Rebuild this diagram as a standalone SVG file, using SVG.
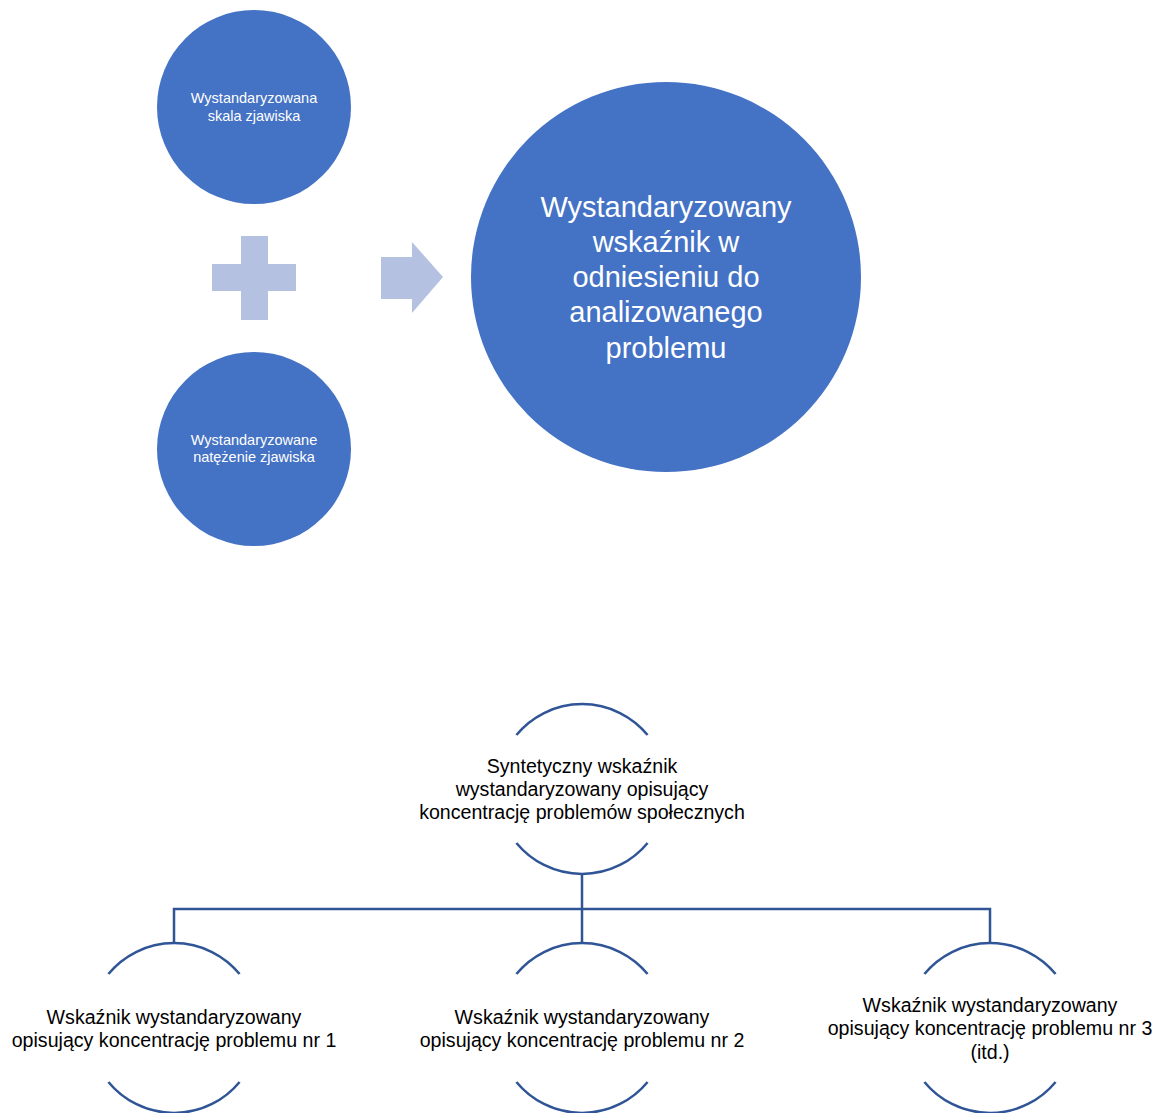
<svg xmlns="http://www.w3.org/2000/svg" width="1157" height="1113" viewBox="0 0 1157 1113">
<style>
.fill{fill:#4472C4}
.light{fill:#B4C1E1}
.wt{fill:#FFFFFF;font-family:"Liberation Sans",Arial,sans-serif;text-anchor:middle}
.bt{fill:#000000;font-family:"Liberation Sans",Arial,sans-serif;text-anchor:middle;font-size:19.6px}
.arc{fill:none;stroke:#2F5597;stroke-width:2.5}
.conn{fill:none;stroke:#2F5597;stroke-width:2.5}
</style>
<rect width="1157" height="1113" fill="#FFFFFF"/>
<g id="node-skala">
<circle class="fill" cx="254" cy="107" r="97"/>
<text class="wt" font-size="14.5"><tspan x="254" y="103">Wystandaryzowana</tspan><tspan x="254" y="121">skala zjawiska</tspan></text>
</g>
<g id="node-natezenie">
<circle class="fill" cx="254" cy="449" r="97"/>
<text class="wt" font-size="14.5"><tspan x="254" y="445">Wystandaryzowane</tspan><tspan x="254" y="462">natężenie zjawiska</tspan></text>
</g>
<g id="plus">
<polygon class="light" points="241,236 268,236 268,264 296,264 296,291 268,291 268,320 241,320 241,291 212,291 212,264 241,264"/>
</g>
<g id="arrow">
<polygon class="light" points="381,257 412,257 412,242 443,277 412,313 412,299 381,299"/>
</g>
<g id="node-wskaznik">
<circle class="fill" cx="666" cy="277" r="195"/>
<text class="wt" font-size="29"><tspan x="666" y="217">Wystandaryzowany</tspan><tspan x="666" y="252">wskaźnik w</tspan><tspan x="666" y="287">odniesieniu do</tspan><tspan x="666" y="322">analizowanego</tspan><tspan x="666" y="358">problemu</tspan></text>
</g>
<g id="connectors">
<path class="conn" d="M582,874 V909 M174,943 V909 H990 V943 M582,909 V943"/>
</g>
<g id="node-syntetyczny">
<path class="arc" d="M516.4,735 A85,85 0 0 1 647.6,735 M516.4,843 A85,85 0 0 0 647.6,843"/>
<text class="bt"><tspan x="582" y="773">Syntetyczny wskaźnik</tspan><tspan x="582" y="796">wystandaryzowany opisujący</tspan><tspan x="582" y="819">koncentrację problemów społecznych</tspan></text>
</g>
<g id="node-problem1">
<path class="arc" d="M108.4,974 A85,85 0 0 1 239.6,974 M108.4,1082 A85,85 0 0 0 239.6,1082"/>
<text class="bt"><tspan x="174" y="1024">Wskaźnik wystandaryzowany</tspan><tspan x="174" y="1047">opisujący koncentrację problemu nr 1</tspan></text>
</g>
<g id="node-problem2">
<path class="arc" d="M516.4,974 A85,85 0 0 1 647.6,974 M516.4,1082 A85,85 0 0 0 647.6,1082"/>
<text class="bt"><tspan x="582" y="1024">Wskaźnik wystandaryzowany</tspan><tspan x="582" y="1047">opisujący koncentrację problemu nr 2</tspan></text>
</g>
<g id="node-problem3">
<path class="arc" d="M924.4,974 A85,85 0 0 1 1055.6,974 M924.4,1082 A85,85 0 0 0 1055.6,1082"/>
<text class="bt"><tspan x="990" y="1012">Wskaźnik wystandaryzowany</tspan><tspan x="990" y="1035">opisujący koncentrację problemu nr 3</tspan><tspan x="990" y="1059">(itd.)</tspan></text>
</g>
</svg>
